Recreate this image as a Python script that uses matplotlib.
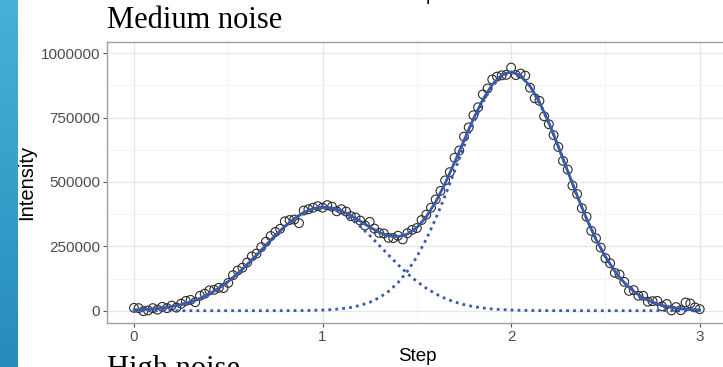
import numpy as np
import matplotlib
matplotlib.use("Agg")
import matplotlib.pyplot as plt

# observed points (Step, Intensity)
obs_step = np.linspace(0, 3, 121)
obs_int = [
    11000, 10000, -2000, 1000, 10000, 4000, 15000, 10000, 20000, 12000,
    27000, 38000, 42000, 33000, 58000, 66000, 79000, 81000, 89000, 88000,
    108000, 138000, 156000, 167000, 187000, 211000, 222000, 247000, 268000, 290000,
    306000, 318000, 347000, 352000, 354000, 340000, 389000, 394000, 400000, 406000,
    400000, 410000, 404000, 386000, 394000, 385000, 367000, 362000, 350000, 331000,
    345000, 319000, 302000, 300000, 283000, 282000, 291000, 277000, 301000, 314000,
    321000, 352000, 373000, 400000, 432000, 465000, 506000, 538000, 594000, 622000,
    676000, 712000, 759000, 790000, 840000, 863000, 898000, 909000, 914000, 916000,
    944000, 915000, 921000, 913000, 866000, 825000, 815000, 755000, 724000, 682000,
    636000, 582000, 548000, 486000, 453000, 398000, 365000, 310000, 281000, 245000,
    204000, 184000, 147000, 140000, 112000, 77000, 80000, 58000, 58000, 35000,
    37000, 38000, 17000, 26000, 1000, 14000, 2000, 32000, 28000, 13000,
    6000,
]

# fitted curves, sampled every 0.05 step
fit_step = np.linspace(0, 3, 61)
peak1 = [
    2600, 4200, 6700, 10500, 15900, 23500, 33900, 47600, 65200, 87100,
    113500, 144200, 178600, 215800, 254200, 292000, 327000, 357100, 380400, 395000,
    400000, 395000, 380400, 357100, 327000, 292000, 254200, 215800, 178600, 144200,
    113500, 87100, 65200, 47600, 33900, 23500, 15900, 10500, 6700, 4200,
    2600, 1500, 900, 500, 300, 150, 80, 40, 20, 10,
    0, 0, 0, 0, 0, 0, 0, 0, 0, 0, 0,
]
peak2 = [
    0, 0, 0, 0, 0, 0, 0, 0, 0, 0,
    0, 0, 8, 20, 40, 90, 180, 360, 690, 1300,
    2400, 4300, 7500, 12600, 20600, 32600, 50200, 75000, 108800, 153200,
    209200, 277500, 357300, 446600, 541700, 637900, 729200, 809200, 871600, 911400,
    925000, 911400, 871600, 809200, 729200, 637900, 541700, 446600, 357300, 277500,
    209200, 153200, 108800, 75000, 50200, 32600, 20600, 12600, 7500, 4300, 2400,
]
fit_total = [
    2600, 4200, 6700, 10500, 15900, 23500, 33900, 47600, 65200, 87100,
    113500, 144200, 178600, 215800, 254200, 292100, 327200, 357500, 381100, 396300,
    402400, 399300, 387900, 369700, 347600, 324600, 304400, 290800, 287400, 297400,
    322700, 364600, 422500, 494200, 575600, 661400, 745100, 819700, 878300, 915600,
    927600, 912900, 872500, 809700, 729500, 638100, 541800, 446600, 357300, 277500,
    209200, 153200, 108800, 75000, 50200, 32600, 20600, 12600, 7500, 4300, 2400,
]

x_ticks = [0, 1, 2, 3]
y_ticks = [0, 250000, 500000, 750000, 1000000]

W, H = 723, 367
fig = plt.figure(figsize=(W / 100, H / 100), dpi=100)
fig.patch.set_facecolor("white")

# slide side strip
strip = fig.add_axes([0, 0, 18 / W, 1])
grad = np.linspace(0, 1, 256).reshape(-1, 1)
top_c = np.array([70, 178, 216]) / 255
bot_c = np.array([38, 140, 188]) / 255
img = top_c[None, None, :] * (1 - grad[..., None]) + bot_c[None, None, :] * grad[..., None]
strip.imshow(img, aspect="auto", extent=[0, 1, 0, 1])
strip.set_axis_off()

line_col = "#3A59A6"

ax = fig.add_axes([107 / W, 1 - 323 / H, (728 - 107) / W, (323 - 42) / H])
ax.set_xlim(-0.143, 3.15)
ax.set_ylim(-47800, 1043500)

ax.set_xticks(x_ticks)
ax.set_xticklabels([str(t) for t in x_ticks])
ax.set_yticks(y_ticks)
ax.set_yticklabels([str(t) for t in y_ticks])
ax.set_xticks([0.5, 1.5, 2.5], minor=True)
ax.set_yticks([125000, 375000, 625000, 875000], minor=True)
ax.grid(which="major", color="#E6E6E6", lw=0.9)
ax.grid(which="minor", color="#F2F2F2", lw=0.6)
ax.set_axisbelow(True)

for s in ax.spines.values():
    s.set_color("#A0A0A0")
    s.set_linewidth(1.0)

ax.tick_params(which="major", length=3, width=0.8, color="#555555",
               labelsize=11, labelcolor="#4D4D4D", pad=2)
ax.tick_params(which="minor", length=0)
for lab in ax.get_xticklabels() + ax.get_yticklabels():
    lab.set_family("Liberation Sans")

ax.scatter(obs_step, obs_int, s=40, facecolors="none", edgecolors="#2b2b2b",
           linewidths=0.8, zorder=2)
ax.plot(fit_step, peak1, color=line_col, lw=2.0, ls=(0, (1, 1.5)), zorder=3)
ax.plot(fit_step, peak2, color=line_col, lw=2.0, ls=(0, (1, 1.5)), zorder=3)
ax.plot(fit_step, fit_total, color=line_col, lw=2.0, zorder=4)

ax.set_xlabel("Step", family="Liberation Sans", fontsize=13.5, labelpad=3)
ax.set_ylabel("Intensity", family="Liberation Sans", fontsize=14.5, labelpad=3)

# titles and neighbouring slide text
fig.text(107 / W, 1 - 28 / H, "Medium noise", family="Liberation Serif",
         fontsize=22, ha="left", va="baseline")
fig.text(107 / W, 1 - 377 / H, "High noise", family="Liberation Serif",
         fontsize=22, ha="left", va="baseline")
fig.text(417 / W, 1 - 0.5 / H, "Step", family="Liberation Sans",
         fontsize=13.5, ha="center", va="baseline")

fig.savefig("out.png", dpi=100)
